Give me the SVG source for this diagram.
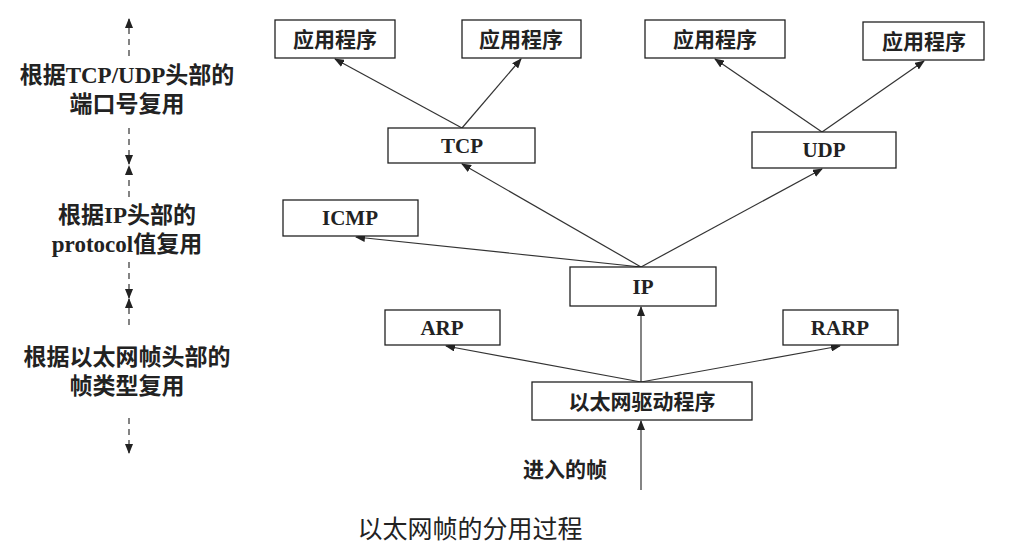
<svg xmlns="http://www.w3.org/2000/svg" width="1026" height="557" viewBox="0 0 1026 557">
<style>
.b{fill:#fff;stroke:#222;stroke-width:1.3}
.t{font-family:"Liberation Serif","Noto Sans CJK SC",serif;font-size:21px;font-weight:bold;fill:#222;text-anchor:middle}
.l{font-size:23px}
.c{stroke:#333;stroke-width:1.2;fill:none;marker-end:url(#a)}
.d{stroke:#333;stroke-width:1.2;fill:none;stroke-dasharray:6,5;marker-end:url(#a)}
</style>
<defs><marker id="a" markerWidth="10" markerHeight="8" refX="9" refY="4" orient="auto" markerUnits="userSpaceOnUse"><path d="M0,0L10,4L0,8z" fill="#222"/></marker></defs>
<rect width="1026" height="557" fill="#fff"/>
<g id="connectors">
<line class="c" x1="462" y1="128" x2="335" y2="59"/>
<line class="c" x1="462" y1="128" x2="521" y2="59"/>
<line class="c" x1="822" y1="132" x2="715" y2="59"/>
<line class="c" x1="822" y1="132" x2="924" y2="61"/>
<line class="c" x1="641" y1="267" x2="462" y2="164"/>
<line class="c" x1="641" y1="267" x2="822" y2="169"/>
<line class="c" x1="641" y1="267" x2="356" y2="237"/>
<line class="c" x1="641" y1="382" x2="641" y2="307"/>
<line class="c" x1="641" y1="382" x2="446" y2="346"/>
<line class="c" x1="641" y1="382" x2="840" y2="346"/>
<line class="c" x1="641" y1="490" x2="641" y2="421"/>
<line class="d" x1="129" y1="56" x2="129" y2="19"/>
<line class="d" x1="129" y1="128" x2="129" y2="164"/>
<line class="d" x1="129" y1="197" x2="129" y2="166"/>
<line class="d" x1="129" y1="262" x2="129" y2="298"/>
<line class="d" x1="129" y1="325" x2="129" y2="299"/>
<line class="d" x1="129" y1="418" x2="129" y2="453"/>
</g>
<g id="app1"><rect class="b" x="275" y="20" width="120" height="38"/><text class="t" x="335" y="47">应用程序</text></g>
<g id="app2"><rect class="b" x="462" y="20" width="119" height="38"/><text class="t" x="521" y="47">应用程序</text></g>
<g id="app3"><rect class="b" x="645" y="20" width="140" height="38"/><text class="t" x="715" y="47">应用程序</text></g>
<g id="app4"><rect class="b" x="863" y="22" width="121" height="38"/><text class="t" x="924" y="49">应用程序</text></g>
<g id="tcp"><rect class="b" x="388" y="128" width="147" height="35"/><text class="t" x="462" y="153">TCP</text></g>
<g id="udp"><rect class="b" x="752" y="132" width="144" height="36"/><text class="t" x="824" y="157">UDP</text></g>
<g id="icmp"><rect class="b" x="283" y="200" width="135" height="36"/><text class="t" x="350" y="225">ICMP</text></g>
<g id="ip"><rect class="b" x="570" y="267" width="146" height="39"/><text class="t" x="643" y="294">IP</text></g>
<g id="arp"><rect class="b" x="385" y="310" width="115" height="35"/><text class="t" x="442" y="335">ARP</text></g>
<g id="rarp"><rect class="b" x="783" y="310" width="115" height="35"/><text class="t" x="840" y="335">RARP</text></g>
<g id="eth"><rect class="b" x="532" y="382" width="220" height="38"/><text class="t" x="642" y="409">以太网驱动程序</text></g>
<text class="t" x="565" y="477">进入的帧</text>
<text class="t l" x="127" y="83">根据TCP/UDP头部的</text>
<text class="t l" x="127" y="112">端口号复用</text>
<text class="t l" x="127" y="223">根据IP头部的</text>
<text class="t l" x="127" y="252">protocol值复用</text>
<text class="t l" x="127" y="365">根据以太网帧头部的</text>
<text class="t l" x="127" y="394">帧类型复用</text>
<text class="t" x="470" y="538" style="font-size:25px;font-weight:normal">以太网帧的分用过程</text>
</svg>
